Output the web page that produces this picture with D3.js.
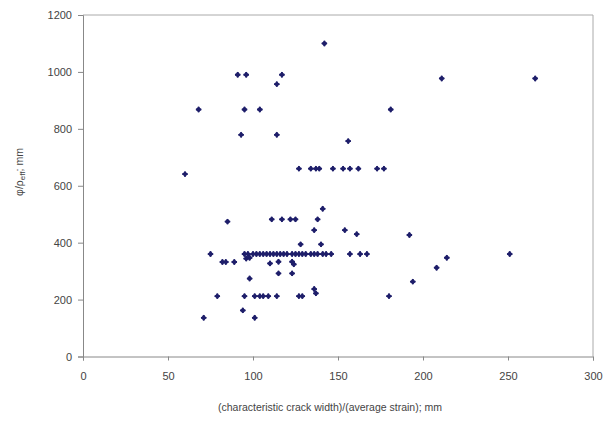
<!DOCTYPE html>
<html>
<head>
<meta charset="utf-8">
<script src="https://cdn.jsdelivr.net/npm/d3@7"></script>
<style>
  body { margin: 0; background: #fff; }
  svg { display: block; }
  text { font-family: "Liberation Sans", Arial, sans-serif; fill: #444; }
</style>
</head>
<body>
<svg id="chart" width="615" height="421"></svg>
<script>
// Data
const xValues = [
  142,
  91, 96, 117,
  114,
  68, 95, 104, 181,
  93, 114,
  156,
  211, 266,
  60,
  127, 134, 137, 139, 147, 153, 157, 162, 173, 177,
  141,
  111, 117, 122, 125, 138, 85,
  136, 154, 161, 192,
  128, 140,
  75,
  95, 97, 100, 102, 104, 106, 108, 110, 112, 114, 116, 118, 120, 123, 125, 127, 129, 131, 134, 136, 138, 141, 143, 146, 157, 163, 167,
  96, 98,
  82, 84, 89,
  110, 115, 123, 124,
  115, 123,
  98,
  136, 137,
  79, 95, 101, 104, 106, 109, 114, 127, 129, 180,
  94, 71, 101,
  194, 208, 214, 251
];
const yValues = [
  1100,
  990, 990, 990,
  957,
  868, 868, 868, 868,
  779, 779,
  757,
  977, 977,
  641,
  660, 660, 660, 660, 660, 660, 660, 660, 660, 660,
  519,
  482, 482, 482, 482, 482, 474,
  444, 444, 430, 427,
  394, 394,
  360,
  360, 360, 360, 360, 360, 360, 360, 360, 360, 360, 360, 360, 360, 360, 360, 360, 360, 360, 360, 360, 360, 360, 360, 360, 360, 360, 360,
  344, 347,
  332, 332, 332,
  327, 333, 333, 324,
  292, 292,
  274,
  237, 222,
  212, 212, 212, 212, 212, 212, 212, 212, 212, 212,
  162, 136, 136,
  263, 312, 347, 360
];
const xTicks = [0, 50, 100, 150, 200, 250, 300];
const yTicks = [0, 200, 400, 600, 800, 1000, 1200];
const xTitle = "(characteristic crack width)/(average strain); mm";

const svg = d3.select("#chart");
const mLeft = 83, mRight = 593, mTop = 15, mBottom = 356.5;

const x = d3.scaleLinear().domain([0, 300]).range([mLeft, mRight]);
const y = d3.scaleLinear().domain([0, 1200]).range([mBottom, mTop]);

// frame (top and right)
svg.append("path")
  .attr("d", `M${mLeft},${mTop}H${mRight}V${mBottom}`)
  .attr("fill", "none").attr("stroke", "#aaa").attr("stroke-width", 1);

const xAxis = svg.append("g")
  .attr("transform", `translate(0,${mBottom})`)
  .call(d3.axisBottom(x).tickValues(xTicks).tickFormat(d3.format("d")).tickSize(4).tickPadding(12));
const yAxis = svg.append("g")
  .attr("transform", `translate(${mLeft},0)`)
  .call(d3.axisLeft(y).tickValues(yTicks).tickFormat(d3.format("d")).tickSize(5).tickPadding(6));

[xAxis, yAxis].forEach(g => {
  g.select(".domain").attr("stroke", "#888");
  g.selectAll(".tick line").attr("stroke", "#888");
  g.selectAll(".tick text").attr("font-size", 11).attr("fill", "#444")
    .attr("font-family", "Liberation Sans, Arial, sans-serif");
});

// points
const pts = xValues.map((v, i) => [v, yValues[i]]);
const sym = d3.symbol().type(d3.symbolDiamond2).size(22);
const cross = d3.symbol().type(d3.symbolCross).size(16);
const g = svg.append("g");
g.selectAll("path.d")
  .data(pts).join("path")
  .attr("class", "d")
  .attr("d", sym)
  .attr("transform", d => `translate(${x(d[0])},${y(d[1])})`)
  .attr("fill", "#1e1e6a");
g.selectAll("path.c")
  .data(pts).join("path")
  .attr("class", "c")
  .attr("d", cross)
  .attr("transform", d => `translate(${x(d[0])},${y(d[1])})`)
  .attr("fill", "#1e1e6a");

// axis titles
svg.append("text")
  .attr("x", (mLeft + mRight) / 2 - 8).attr("y", 411)
  .attr("text-anchor", "middle").attr("font-size", 10.5)
  .text(xTitle);

const yt = svg.append("text")
  .attr("transform", "translate(23,172) rotate(-90)")
  .attr("text-anchor", "middle").attr("font-size", 10.5);
yt.append("tspan").text("\u03c6/\u03c1");
yt.append("tspan").attr("font-size", 8).attr("dy", 2).text("eff");
yt.append("tspan").attr("dy", -2).text("; mm");
</script>
</body>
</html>
